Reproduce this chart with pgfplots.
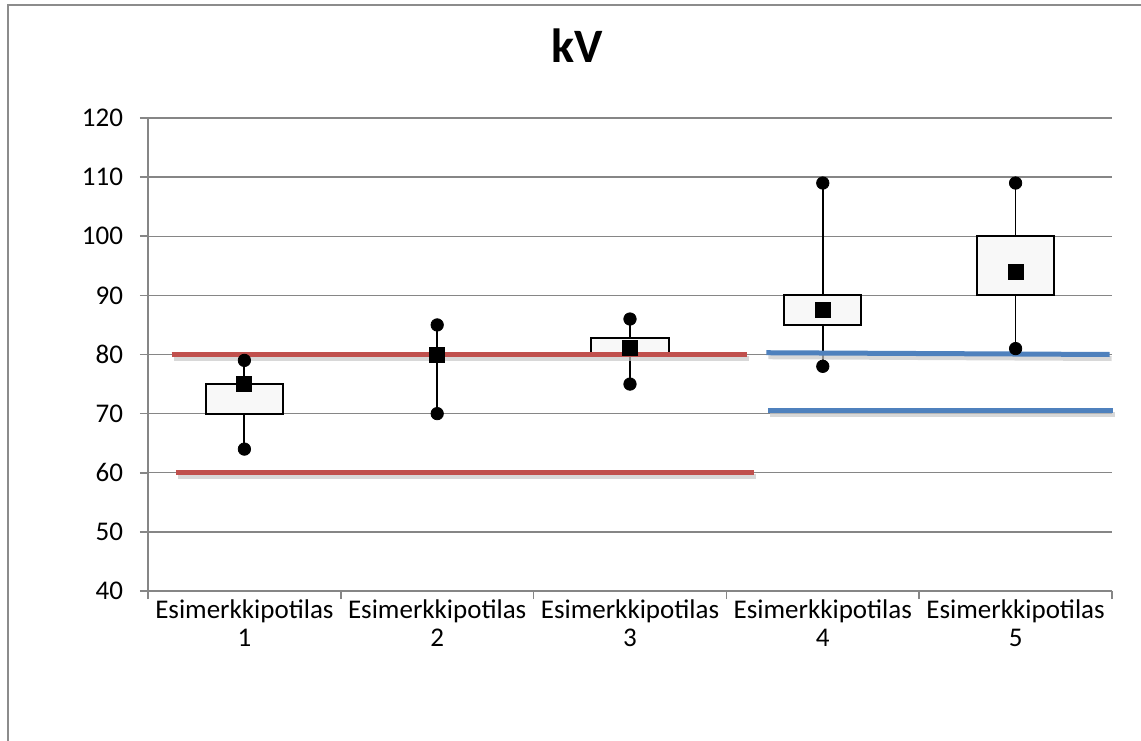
\documentclass[border=0pt]{standalone}
\usepackage{pgfplots}
\pgfplotsset{compat=1.18}
\usepackage{fontspec}
\setmainfont{Carlito}
\definecolor{gridc}{RGB}{134,134,134}
\definecolor{framec}{RGB}{140,140,140}
\definecolor{redl}{RGB}{192,80,77}
\definecolor{bluel}{RGB}{79,129,189}
\definecolor{boxf}{RGB}{248,248,248}
\definecolor{shadowc}{RGB}{200,200,200}
\begin{document}
\begin{tikzpicture}
\path[use as bounding box] (-74pt,-74.5pt) rectangle (496.5pt,295.5pt);
\draw[framec, line width=1pt] (-70pt,-80pt) -- (-70pt,293pt) -- (500pt,293pt);
\begin{axis}[
  at={(0pt,0pt)}, anchor=south west,
  scale only axis, width=482pt, height=236.5pt,
  xmin=0.5, xmax=5.5, ymin=40, ymax=120,
  ytick={40,50,...,120},
  xtick={0.5,1.5,2.5,3.5,4.5,5.5},
  x tick label as interval,
  xticklabels={{Esimerkkipotilas\\1},{Esimerkkipotilas\\2},{Esimerkkipotilas\\3},{Esimerkkipotilas\\4},{Esimerkkipotilas\\5}},
  xticklabel style={align=center, font=\fontsize{13.5}{14}\selectfont, yshift=3pt},
  yticklabel style={font=\fontsize{13.5}{16}\selectfont, xshift=-5pt},
  /pgf/number format/assume math mode=true,
  axis lines*=left,
  axis line style={gridc, line width=0.8pt},
  tick style={gridc, line width=0.8pt},
  tick align=outside, major tick length=4pt,
  ymajorgrids, grid style={gridc, line width=0.7pt},
  clip=false,
]
% whiskers
\addplot[black, line width=0.9pt] coordinates {(1,64) (1,79)};
\addplot[black, line width=0.9pt] coordinates {(2,70) (2,85)};
\addplot[black, line width=0.9pt] coordinates {(3,75) (3,86)};
\addplot[black, line width=0.9pt] coordinates {(4,78) (4,109)};
\addplot[black, line width=0.9pt] coordinates {(5,81) (5,109)};
% boxes
\addplot[black, line width=1pt, fill=boxf] coordinates {(0.8,70) (1.2,70) (1.2,75) (0.8,75) (0.8,70)} -- cycle;
\addplot[black, line width=1pt, fill=boxf] coordinates {(1.8,80) (2.2,80) (2.2,80) (1.8,80) (1.8,80)} -- cycle;
\addplot[black, line width=1pt, fill=boxf] coordinates {(2.8,80) (3.2,80) (3.2,82.8) (2.8,82.8) (2.8,80)} -- cycle;
\addplot[black, line width=1pt, fill=boxf] coordinates {(3.8,85) (4.2,85) (4.2,90) (3.8,90) (3.8,85)} -- cycle;
\addplot[black, line width=1pt, fill=boxf] coordinates {(4.8,90) (5.2,90) (5.2,100) (4.8,100) (4.8,90)} -- cycle;
% whisker ends
\addplot[only marks, mark=*, mark size=3.1pt, black] coordinates {
 (1,64) (1,79) (2,70) (2,85) (3,75) (3,86) (4,78) (4,109) (5,81) (5,109)};
% means
\addplot[only marks, mark=square*, mark size=3.75pt, black] coordinates {
 (1,75) (2,80) (3,81.2) (4,87.5) (5,94)};
% shadows
\addplot[shadowc, line width=2.5pt, xshift=1pt, yshift=-2pt, opacity=0.7] coordinates {(0.623,80) (3.609,80)};
\addplot[shadowc, line width=2.5pt, xshift=1pt, yshift=-2pt, opacity=0.7] coordinates {(0.645,60) (3.641,60)};
\addplot[shadowc, line width=2.5pt, xshift=1pt, yshift=-2pt, opacity=0.7] coordinates {(3.707,80.3) (5.488,80.0)};
\addplot[shadowc, line width=2.5pt, xshift=1pt, yshift=-2pt, opacity=0.7] coordinates {(3.715,70.5) (5.505,70.5)};
% limit lines
\addplot[redl, line width=2.5pt] coordinates {(0.623,80) (3.609,80)};
\addplot[redl, line width=2.5pt] coordinates {(0.645,60) (3.641,60)};
\addplot[bluel, line width=2.5pt] coordinates {(3.707,80.3) (5.488,80.0)};
\addplot[bluel, line width=2.5pt] coordinates {(3.715,70.5) (5.505,70.5)};
\end{axis}
\node[anchor=base, font=\fontsize{24}{28}\selectfont\bfseries] at (214.75pt,264pt) {kV};
\end{tikzpicture}
\end{document}
